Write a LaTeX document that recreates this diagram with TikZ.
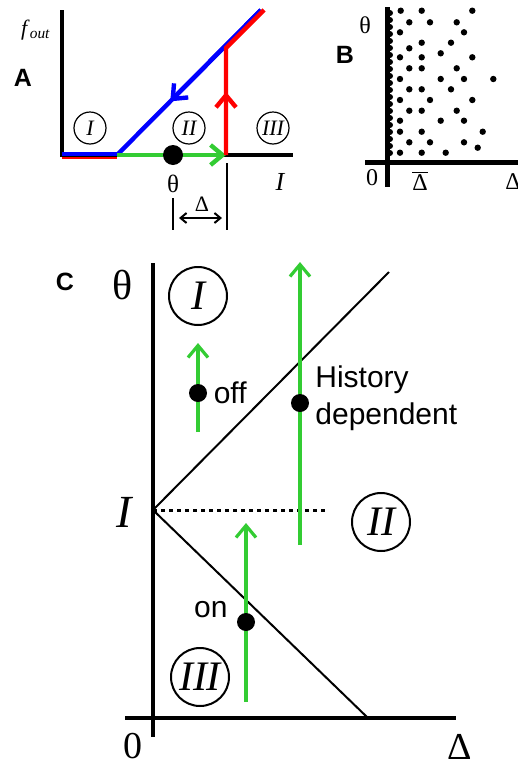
\documentclass[tikz,border=0pt]{standalone}
\usepackage{fontspec}
\setmainfont{Liberation Serif}
\setsansfont{Liberation Sans}
\usetikzlibrary{arrows.meta,calc,positioning}
\definecolor{lgreen}{RGB}{51,204,51}

\begin{document}
\begin{tikzpicture}[x=0.5pt,y=-0.5pt,
	barb/.style={-{Straight Barb[length=6pt,width=10pt]}},
	regionA/.style={circle,draw,line width=0.6pt,minimum size=16pt,inner sep=0pt,font=\fontsize{11}{11}\selectfont\itshape},
	regionC/.style={circle,draw,line width=1pt,minimum size=29pt,inner sep=0pt,font=\fontsize{21}{21}\selectfont\itshape},
	panel/.style={font=\fontsize{12.5}{12.5}\selectfont\sffamily\bfseries},
	bigdot/.style={circle,fill,inner sep=0pt,minimum size=#1},
	sanslab/.style={font=\fontsize{15}{18.5}\selectfont\sffamily,inner sep=1pt}]
	\useasboundingbox (0,0) rectangle (518,766);

	% panel A
	\coordinate (a0) at (62,155);
	\coordinate (atop) at (62,10);
	\coordinate (aend) at (293,155);
	\coordinate (akink) at (117,155);
	\coordinate (ajump) at (226,155);
	\coordinate (aup) at (226,48);
	\coordinate (atip) at (261,10);
	\node [panel] (labA) at (23,78) {A};
	\node [font=\fontsize{11}{11}\selectfont] (fout) at (36,30) {\textit{f}\textsubscript{\textit{out}}};
	\draw [line width=2pt] (atop) -- (a0) -- (aend);
	\draw [red, line width=1pt] ($(a0)+(0,2.5)$) -- ($(akink)+(0,2.5)$);
	\draw [blue, line width=2pt] ($(a0)+(0,-1.5)$) -- ($(akink)+(0,-1.5)$);
	\draw [blue, line width=2.2pt] (atip) -- (akink);
	\draw [blue, line width=2.2pt, barb] (atip) -- ($(atip)!0.63!(akink)$);
	\draw [lgreen, line width=2.2pt, barb] (akink) -- (ajump);
	\draw [red, line width=2.2pt] (ajump) -- (aup) -- ($(atip)+(3,0)$);
	\draw [red, line width=2.2pt, barb] (ajump) -- ($(ajump)!0.59!(aup)$);
	\node [bigdot=10pt] (thdot) at (173,155) {};
	\node [font=\fontsize{12.5}{12.5}\selectfont] (thA) at (173,184) {θ};
	\node [font=\fontsize{13}{13}\selectfont\itshape] (IA) at (280,182) {I};
	\node [regionA] (rA1) at (90,128) {I};
	\node [regionA] (rA2) at (189,128) {II};
	\node [regionA] (rA3) at (273,128) {III};
	\draw [line width=1pt] (173,198) -- (173,230);
	\draw [line width=1pt] (227,163) -- (227,230);
	\node [font=\fontsize{11}{11}\selectfont] (dA) at (202,204) {Δ};
	\draw [line width=1pt, {Straight Barb[length=3pt,width=5pt]}-{Straight Barb[length=3pt,width=5pt]}] (179,218) -- (222,218);

	% panel B
	\node [panel] (labB) at (345,55) {B};
	\node [font=\fontsize{12}{12}\selectfont] (thB) at (365,25) {θ};
	\node [font=\fontsize{12}{12}\selectfont] (zeroB) at (372,178) {0};
	\node [font=\fontsize{12}{12}\selectfont] (dbar) at (420,181) {$\overline{\mbox{Δ}}$};
	\node [font=\fontsize{12}{12}\selectfont] (dB) at (513,182) {Δ};
	\draw [line width=2.5pt] (387,7) -- (387,187);
	\draw [line width=2.5pt] (365,162) -- (518,162);
	\foreach \y in {13,20,...,153}
		\fill (390,\y) circle (1.5pt);
	\foreach \x/\y in {400.7/10.7,421.7/10.7,472.3/10.7,409.3/22.3,430/22.3,456.7/22.3,
		400/32.3,464/32.3,421.7/42.7,451/42.7,409.3/48.3,440.7/53.3,
		400/57.3,421.7/57.3,472.3/57.3,409.3/68.3,421.7/68.3,456.7/68.3,
		400/79,440.7/79,464/79,493.3/79,409.3/89.3,421.7/89.3,451/89.3,
		400/100,430/100,472.3/100,409.3/110.7,421.7/110.7,456.7/110.7,
		400/120.7,440.7/120.7,464/120.7,400/131.7,421.7/131.7,482.7/131.7,
		409.3/142.3,430/142.3,464/142.3,477.7/147.7,
		400/152.7,421.7/152.7,445.7/152.7}
		\fill (\x,\y) circle (1.6pt);

	% panel C
	\coordinate (c0) at (153,718);
	\coordinate (ctop) at (153,263);
	\coordinate (cbot) at (153,737);
	\coordinate (cleft) at (125,718);
	\coordinate (cright) at (456,718);
	\coordinate (cI) at (153,510);
	\coordinate (cup) at (389,272);
	\coordinate (clow) at (368,718);
	\coordinate (cdash) at (327,510);
	\node [panel] (labC) at (65,282) {C};
	\node [font=\fontsize{21}{21}\selectfont] (thC) at (123,285) {θ};
	\node [font=\fontsize{23}{23}\selectfont\itshape] (IC) at (124,512) {I};
	\node [font=\fontsize{19}{19}\selectfont, inner sep=0pt] (zeroC) at (133,746) {0};
	\node [font=\fontsize{19}{19}\selectfont, inner sep=0pt] (dC) at (460,747) {Δ};
	\draw [line width=2pt] (ctop) -- (cbot);
	\draw [line width=2.3pt] (cleft) -- (cright);
	\draw [line width=1pt] (cup) -- (cI) -- (clow);
	\draw [line width=1.5pt, dash pattern=on 2pt off 2pt] (cI) -- (cdash);
	\node [regionC] (rC1) at (198,296) {I};
	\node [regionC] (rC2) at (381,522) {II};
	\node [regionC] (rC3) at (200,677) {III};
	% green sweeps
	\coordinate (offs) at (198,432);
	\coordinate (offe) at (198,343);
	\coordinate (hists) at (300,545);
	\coordinate (histe) at (300,262);
	\coordinate (ons) at (246,702);
	\coordinate (one) at (246,523);
	\draw [lgreen, line width=1.6pt, barb] (offs) -- (offe);
	\draw [lgreen, line width=1.6pt, barb] (hists) -- (histe);
	\draw [lgreen, line width=1.6pt, barb] (ons) -- (one);
	\node [bigdot=9pt] (offdot) at (198,393) {};
	\node [bigdot=9pt] (histdot) at (300,403) {};
	\node [bigdot=9pt] (ondot) at (246,622) {};
	\node [sanslab, right=2pt of offdot] (off) {off};
	\node [sanslab, align=left, anchor=west] (hist) at (313,398) {History\\dependent};
	\node [sanslab, anchor=east] (on) at (230,610) {on};
\end{tikzpicture}
\end{document}
